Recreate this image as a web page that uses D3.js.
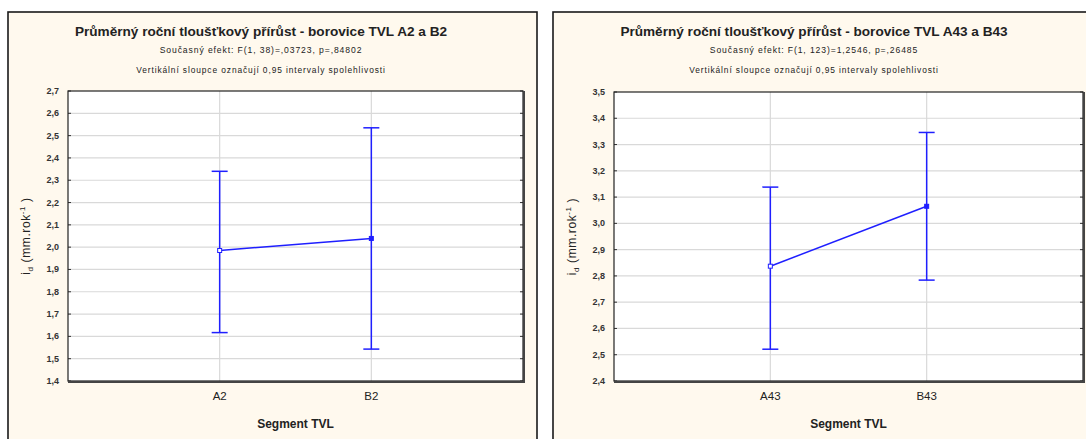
<!DOCTYPE html>
<html lang="cs">
<head>
  <meta charset="UTF-8" />
  <title>Průměrný roční tloušťkový přírůst</title>
  <script src="https://d3js.org/d3.v7.min.js"></script>
  <style>
    body, html { margin: 0; padding: 0; background: #fff; }
    svg { display: block; font-family: "Liberation Sans", Arial, sans-serif; }
  </style>
</head>
<body>
  <svg id="chart" width="1086" height="439"></svg>
  <script>
    // Values
    const titlesA = ["Průměrný roční tloušťkový přírůst - borovice TVL A2 a B2",
                     "Současný efekt: F(1, 38)=,03723, p=,84802",
                     "Vertikální sloupce označují 0,95 intervaly spolehlivosti"];
    const categoriesA = ["A2", "B2"];
    const meansA = [1.985, 2.039];
    const lowerA = [1.617, 1.543];
    const upperA = [2.340, 2.535];
    const yDomainA = [1.4, 2.7];

    const titlesB = ["Průměrný roční tloušťkový přírůst - borovice TVL A43 a B43",
                     "Současný efekt: F(1, 123)=1,2546, p=,26485",
                     "Vertikální sloupce označují 0,95 intervaly spolehlivosti"];
    const categoriesB = ["A43", "B43"];
    const meansB = [2.837, 3.065];
    const lowerB = [2.521, 2.784];
    const upperB = [3.138, 3.346];
    const yDomainB = [2.4, 3.5];

    const xTitle = "Segment TVL";

    const csLocale = d3.formatLocale({ decimal: ",", thousands: " ", grouping: [3], currency: ["", ""] });
    const fmt = csLocale.format(".1f");

    const svg = d3.select("#chart");
    const blue = "#1f1fff";

    function drawPanel(o) {
      const g = svg.append("g");

      // outer frame
      g.append("rect")
        .attr("x", o.fx).attr("y", o.fy).attr("width", o.fw).attr("height", 460)
        .attr("fill", "#fff9ee").attr("stroke", "#1a1a1a").attr("stroke-width", 1.6);

      // titles
      g.append("text").attr("x", o.tx).attr("y", 36)
        .attr("text-anchor", "middle").attr("font-size", 13.6).attr("font-weight", "bold")
        .attr("fill", "#222").text(o.titles[0]);
      g.append("text").attr("x", o.tx).attr("y", 53)
        .attr("text-anchor", "middle").attr("font-size", 8.6).attr("letter-spacing", 0.9)
        .attr("fill", "#222").text(o.titles[1]);
      g.append("text").attr("x", o.tx).attr("y", 73)
        .attr("text-anchor", "middle").attr("font-size", 8.4).attr("letter-spacing", 0.9)
        .attr("fill", "#222").text(o.titles[2]);

      const x = d3.scaleLinear().domain([0, 3]).range([o.left, o.right]);
      const y = d3.scaleLinear().domain(o.yDomain).range([o.bottom, o.top]);
      const yTicks = d3.range(0, Math.round((o.yDomain[1] - o.yDomain[0]) * 10) + 1)
        .map(i => o.yDomain[0] + i / 10);

      // plot area
      g.append("rect")
        .attr("x", o.left).attr("y", o.top)
        .attr("width", o.right - o.left).attr("height", o.bottom - o.top)
        .attr("fill", "#fff");

      // grid
      g.append("g").selectAll("line.h").data(yTicks.slice(1, -1)).join("line")
        .attr("x1", o.left).attr("x2", o.right)
        .attr("y1", d => y(d)).attr("y2", d => y(d))
        .attr("stroke", "#d9d9d9").attr("stroke-width", 1.2);
      g.append("g").selectAll("line.v").data(o.categories).join("line")
        .attr("x1", (d, i) => x(i + 1)).attr("x2", (d, i) => x(i + 1))
        .attr("y1", o.top).attr("y2", o.bottom)
        .attr("stroke", "#d9d9d9").attr("stroke-width", 1.2);

      // small ticks inside the frame
      g.append("g").selectAll("line").data(yTicks).join("line")
        .attr("x1", o.left).attr("x2", o.left + 3)
        .attr("y1", d => y(d)).attr("y2", d => y(d))
        .attr("stroke", "#333");
      g.append("g").selectAll("line").data(yTicks).join("line")
        .attr("x1", o.right - 3).attr("x2", o.right)
        .attr("y1", d => y(d)).attr("y2", d => y(d))
        .attr("stroke", "#333");

      // y tick labels
      g.append("g").selectAll("text").data(yTicks).join("text")
        .attr("x", o.left - 9).attr("y", d => y(d) + 3)
        .attr("text-anchor", "end").attr("font-size", 9).attr("font-weight", "bold")
        .attr("fill", "#333").text(d => fmt(d));

      // x tick labels
      g.append("g").selectAll("text").data(o.categories).join("text")
        .attr("x", (d, i) => x(i + 1)).attr("y", o.bottom + 19)
        .attr("text-anchor", "middle").attr("font-size", 11.5)
        .attr("fill", "#222").text(d => d);

      // axis titles
      g.append("text").attr("x", (o.left + o.right) / 2).attr("y", o.bottom + 47)
        .attr("text-anchor", "middle").attr("font-size", 12).attr("font-weight", "bold")
        .attr("fill", "#222").text(xTitle);

      const yl = g.append("text")
        .attr("transform", `translate(${o.yLabelX},${(o.top + o.bottom) / 2}) rotate(-90)`)
        .attr("text-anchor", "middle").attr("font-size", 12).attr("letter-spacing", 0.6)
        .attr("fill", "#222");
      yl.append("tspan").text("i");
      yl.append("tspan").attr("font-size", 8).attr("dy", 3).text("d");
      yl.append("tspan").attr("dy", -3).text(" (mm.rok");
      yl.append("tspan").attr("font-size", 8).attr("dy", -5).text("-1");
      yl.append("tspan").attr("dy", 5).text(" )");

      // error bars
      const eb = g.append("g").attr("stroke", blue).attr("stroke-width", 1.5).attr("fill", "none");
      eb.selectAll("line.bar").data(o.means).join("line")
        .attr("x1", (d, i) => x(i + 1)).attr("x2", (d, i) => x(i + 1))
        .attr("y1", (d, i) => y(o.lower[i])).attr("y2", (d, i) => y(o.upper[i]));
      eb.selectAll("line.capU").data(o.upper).join("line")
        .attr("x1", (d, i) => x(i + 1) - 8).attr("x2", (d, i) => x(i + 1) + 8)
        .attr("y1", d => y(d)).attr("y2", d => y(d));
      eb.selectAll("line.capL").data(o.lower).join("line")
        .attr("x1", (d, i) => x(i + 1) - 8).attr("x2", (d, i) => x(i + 1) + 8)
        .attr("y1", d => y(d)).attr("y2", d => y(d));

      // mean line and markers
      g.append("path")
        .datum(o.means)
        .attr("d", d3.line().x((d, i) => x(i + 1)).y(d => y(d)))
        .attr("stroke", blue).attr("stroke-width", 1.5).attr("fill", "none");
      g.append("g").selectAll("rect").data(o.means).join("rect")
        .attr("x", (d, i) => x(i + 1) - 2).attr("y", d => y(d) - 2)
        .attr("width", 4).attr("height", 4)
        .attr("fill", (d, i) => i === 0 ? "#fff" : blue)
        .attr("stroke", blue).attr("stroke-width", 1);

      // plot border with heavier bottom/right edge
      g.append("rect")
        .attr("x", o.left).attr("y", o.top)
        .attr("width", o.right - o.left).attr("height", o.bottom - o.top)
        .attr("fill", "none").attr("stroke", "#222").attr("stroke-width", 1.2);
      g.append("path")
        .attr("d", `M${o.left},${o.bottom + 1}H${o.right + 1}V${o.top}`)
        .attr("fill", "none").attr("stroke", "#444").attr("stroke-width", 2);
    }

    drawPanel({
      fx: 8, fy: 12, fw: 529, tx: 261,
      left: 68, right: 523, top: 91, bottom: 381, yLabelX: 30,
      titles: titlesA, categories: categoriesA, means: meansA,
      lower: lowerA, upper: upperA, yDomain: yDomainA
    });

    drawPanel({
      fx: 553, fy: 12, fw: 560, tx: 814,
      left: 614, right: 1083, top: 92, bottom: 381, yLabelX: 576,
      titles: titlesB, categories: categoriesB, means: meansB,
      lower: lowerB, upper: upperB, yDomain: yDomainB
    });
  </script>
</body>
</html>
